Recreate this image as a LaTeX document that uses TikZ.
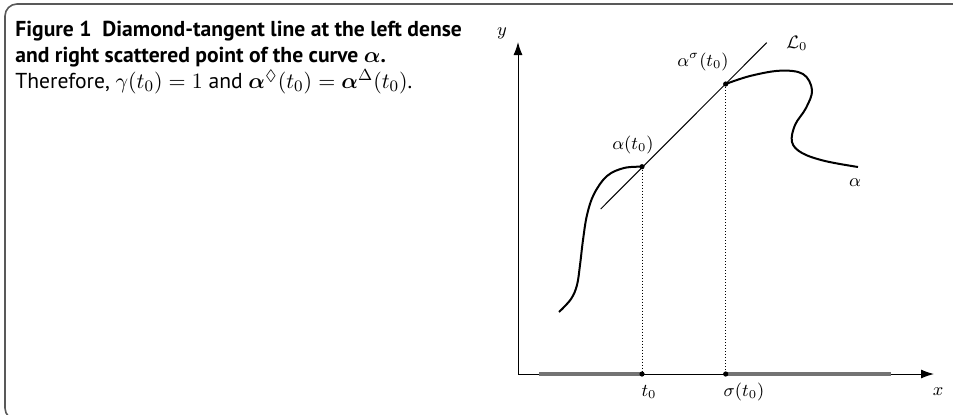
\documentclass[tikz,border=0pt]{standalone}
\usepackage{amsmath}
\usepackage{amssymb}
\usepackage[no-math]{fontspec}
\setmainfont{PT Sans}
\usetikzlibrary{arrows.meta}
\usetikzlibrary{positioning}
\newcommand{\tdot}[1]{\fill (#1) circle (1.3pt);}
\tikzset{
	frame/.style = {draw=black!65, line width=0.8pt, rounded corners=6pt},
	caption/.style = {anchor=north west, align=left, inner sep=0pt, font=\fontsize{10.8}{12.9}\selectfont},
	axis/.style = {line width=0.5pt, -{Latex[length=6.5pt,width=4.5pt]}},
	graybar/.style = {line width=1.6pt, black!55},
	tline/.style = {line width=0.5pt},
	curve/.style = {line width=1pt},
	guide/.style = {densely dotted, line width=0.5pt},
	lbl/.style = {inner sep=0pt, font=\small}
}

\begin{document}
\begin{tikzpicture}[x=0.5pt,y=-0.5pt]

	\useasboundingbox (0,0) rectangle (953,414);
	\begin{scope}
		\clip (0,0) rectangle (953,414);
		\draw[frame] (5,4) rectangle (990,420);
	\end{scope}

	\node[caption] (cap) at (15,21) {\textbf{Figure 1\enspace Diamond-tangent line at the left dense}\\
		\textbf{and right scattered point of the curve $\boldsymbol{\alpha}$.}\\
		Therefore, $\gamma(t_0)=1$ and $\boldsymbol{\alpha}^{\Diamond}(t_0)=\boldsymbol{\alpha}^{\Delta}(t_0)$.};

	\coordinate (O) at (518,374);
	\coordinate (xend) at (934,374);
	\coordinate (yend) at (518,42);
	\coordinate (A) at (642,166.7);
	\coordinate (S) at (725.7,84);
	\coordinate (T) at (A |- O);
	\coordinate (ST) at (S |- O);
	\coordinate (L1) at (600.7,209);
	\coordinate (L2) at (766.7,42.7);
	\coordinate (g1) at (539,374);
	\coordinate (g2) at (891,374);

	\draw[axis] (O) -- (xend);
	\draw[axis] (O) -- (yend);
	\draw[graybar] (g1) -- (T);
	\draw[graybar] (ST) -- (g2);

	\draw[tline] (L1) -- (L2);

	\draw[curve] plot[smooth, tension=0.6] coordinates {(559,312) (571,299) (577,285) (580,265) (583,240) (587,215) (594,194) (607,176) (624,168) (A)};
	\draw[curve] plot[smooth, tension=0.6] coordinates {(S) (750,76) (780,70.7) (803,74) (812,90) (806,108) (795,125) (792,142) (802,153) (825,161) (858,167)};

	\draw[guide] (A) -- (T);
	\draw[guide] (S) -- (ST);

	\tdot{A}
	\tdot{S}
	\tdot{T}
	\tdot{ST}

	\node[lbl] (ylab) at (502,33) {$y$};
	\node[lbl] (xlab) at (938,392) {$x$};
	\node[lbl] (Llab) at (797,43) {$\mathcal{L}_0$};
	\node[lbl] (Slab) at (703,62) {$\alpha^{\sigma}(t_0)$};
	\node[lbl] (Alab) at (633,145) {$\alpha(t_0)$};
	\node[lbl] (alab) at (855,183) {$\alpha$};
	\node[lbl] (tlab) at (649,392) {$t_0$};
	\node[lbl] (stlab) at (744,392) {$\sigma(t_0)$};

\end{tikzpicture}
\end{document}
